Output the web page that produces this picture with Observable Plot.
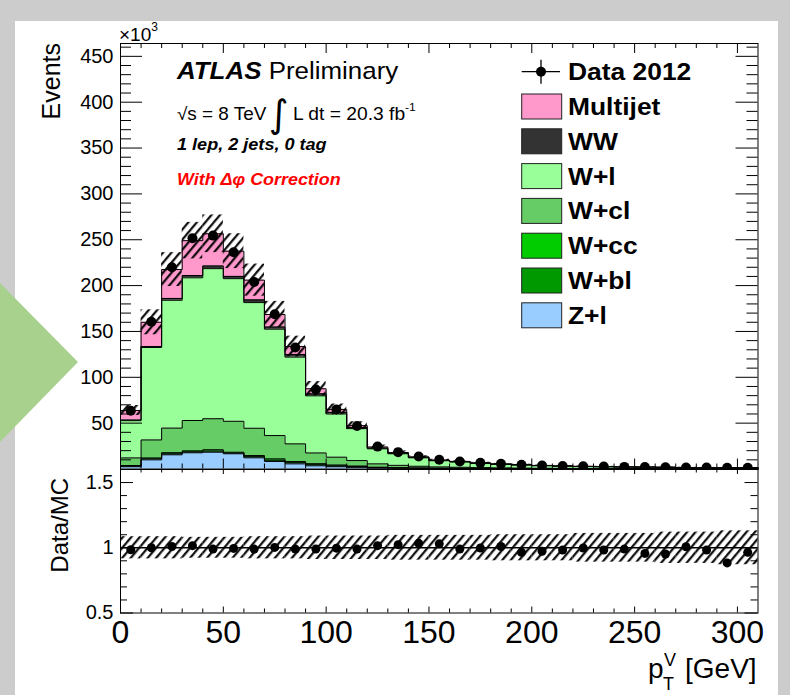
<!DOCTYPE html>
<html><head><meta charset="utf-8">
<script src="https://cdn.jsdelivr.net/npm/d3@7"></script>
<script src="https://cdn.jsdelivr.net/npm/@observablehq/plot@0.6"></script>
<style>
body{margin:0;background:#cccccc;}
#page{position:relative;width:790px;height:695px;overflow:hidden;font-family:"Liberation Sans",Arial,Helvetica,sans-serif;}
.abs{position:absolute;left:0;top:0;}
</style></head><body>
<div id="page">
 <div style="position:absolute;left:15px;top:21px;width:763px;height:674px;background:#fff"></div>
 <svg class="abs" width="790" height="695"><polygon points="0,283 78,362 0,442" fill="#A9D18E"/></svg>
 <svg width="0" height="0" style="position:absolute"><defs>
   <pattern id="hatch" patternUnits="userSpaceOnUse" width="6.5" height="6.5" patternTransform="rotate(40)"><line x1="1.2" y1="-1" x2="1.2" y2="8" stroke="#000" stroke-width="2.1"/></pattern>
 </defs></svg>
 <div id="upper" class="abs"></div>
 <div id="lower" class="abs" style="top:449px"></div>
 <svg id="ann" class="abs" width="790" height="695" font-family="Liberation Sans, Arial, Helvetica, sans-serif">
  <text x="119" y="40.5" font-size="19">×10<tspan dy="-10" font-size="12">3</tspan></text>
  <text transform="translate(60,43) rotate(-90)" text-anchor="end" font-size="25">Events</text>
  <text transform="translate(177,79.3) scale(1.08,1)" font-size="24"><tspan font-weight="bold" font-style="italic">ATLAS</tspan> Preliminary</text>
  <text transform="translate(177,120) scale(1.08,1)" font-size="17.5">√s = 8 TeV</text>
  <text x="269" y="127" font-size="38" font-family="DejaVu Sans">∫</text>
  <text transform="translate(293,120) scale(1.1,1)" font-size="17.5">L dt = 20.3 fb<tspan dy="-9" font-size="11">-1</tspan></text>
  <text transform="translate(177,150) scale(1.13,1)" font-size="16" font-weight="bold" font-style="italic">1 lep, 2 jets, 0 tag</text>
  <text transform="translate(177,185) scale(1.12,1)" font-size="16" font-weight="bold" font-style="italic" fill="#ff0000">With Δφ Correction</text>
  <g id="legend"></g>
  <text transform="translate(68,478) rotate(-90)" text-anchor="end" font-size="24">Data/MC</text>
  <text x="648" y="678" font-size="28">p<tspan x="663" y="690" font-size="18">T</tspan><tspan x="664" y="666" font-size="18">V</tspan><tspan x="685" y="678" font-size="28">[GeV]</tspan></text>
 </svg>
</div>
<script>
// ---- data (thousands of events per 10 GeV bin) ----
const binCenters = [5,15,25,35,45,55,65,75,85,95,105,115,125,135,145,155,165,175,185,195,205,215,225,235,245,255,265,275,285,295,305];
const zl  = [2.5,10,15.5,17.7,18.3,16.6,12.2,8.2,5.6,3.5,2.5,1.8,1.0,0.8,0.6,0.45,0.4,0.3,0.25,0.2,0.16,0.14,0.12,0.11,0.1,0.09,0.08,0.07,0.06,0.06,0.05];
const wbl = [0.7,1.1,1.1,1.0,1.3,0.85,1.25,1.45,1.3,1.2,1.0,0.8,0.5,0.4,0.3,0.25,0.2,0.15,0.12,0.1,0.08,0.07,0.06,0.05,0.05,0.04,0.04,0.03,0.03,0.03,0.03];
const wcc = [0.6,1.0,1.2,1.1,1.4,0.9,1.2,1.4,1.2,1.1,0.9,0.7,0.5,0.4,0.3,0.25,0.2,0.15,0.12,0.1,0.08,0.07,0.06,0.05,0.05,0.04,0.04,0.03,0.03,0.03,0.03];
const wcl = [8.3,19.6,26.8,33.1,33.8,33.7,29.8,25.4,19.3,11.7,8.5,5.9,3.6,2.4,1.8,1.35,1.1,0.9,0.75,0.62,0.5,0.43,0.37,0.34,0.3,0.28,0.26,0.22,0.2,0.19,0.18];
const wl  = [40.6,100.8,139.4,155.6,163.7,155.5,137,116,94.6,62.3,47.1,34.8,16.4,12.6,9.2,6.7,5.7,4.6,3.8,3.28,2.73,2.35,2.03,1.85,1.62,1.54,1.4,1.19,1.07,1.03,0.94];
const ww  = [0.8,1.1,2.0,2.5,3.0,2.5,3.0,2.5,2.9,2.2,1.8,1.3,0.8,0.6,0.5,0.4,0.35,0.3,0.26,0.22,0.18,0.16,0.14,0.13,0.11,0.11,0.1,0.08,0.08,0.07,0.07];
const mj  = [10.3,26.4,31.5,38,35,27.5,21.5,13.5,8.6,5.5,3.2,2.0,1.2,0.8,0.5,0.3,0.35,0.3,0.25,0.23,0.17,0.14,0.12,0.11,0.09,0.09,0.08,0.07,0.06,0.06,0.05];
const data2012 = [63.5,160.5,220,251.7,254.5,236.4,204,168.8,132.5,86.7,64.8,46.8,24.4,18.4,13.6,10,8.2,6.7,5.6,4.6,3.8,3.3,2.9,2.6,2.3,2.1,1.9,1.7,1.5,1.3,1.3];
const ratio = [0.985,1.0,1.01,1.016,0.99,0.995,0.99,1.003,0.99,0.99,0.997,0.99,1.016,1.024,1.034,1.03,0.99,0.998,1.01,0.965,0.973,0.983,0.998,0.983,0.99,0.957,0.952,1.008,0.983,0.884,0.965];
const relErr = [0.085,0.085,0.085,0.08,0.08,0.08,0.085,0.085,0.085,0.09,0.09,0.09,0.09,0.095,0.095,0.095,0.095,0.095,0.10,0.10,0.10,0.10,0.11,0.11,0.11,0.11,0.12,0.12,0.12,0.13,0.13];
const layerNames  = ["Z+l","W+bl","W+cc","W+cl","W+l","WW","Multijet"];
const layerColors = ["#99ccff","#009900","#00cc00","#66cc66","#99ff99","#333333","#ff99cc"];
const layerValues = [zl,wbl,wcc,wcl,wl,ww,mj];
const legendNames  = ["Multijet","WW","W+l","W+cl","W+cc","W+bl","Z+l"];
const legendColors = ["#ff99cc","#333333","#99ff99","#66cc66","#00cc00","#009900","#99ccff"];
const xTickLabels = [0,50,100,150,200,250,300];
const yTickLabelsUpper = [50,100,150,200,250,300,350,400,450];
const yTickLabelsLower = [0.5,1,1.5];

// ---- build stacked tables ----
const nb = binCenters.length;
const base = new Array(nb).fill(0);
const stacks = layerValues.map((vals, li) => {
  const rows = [];
  for (let i = 0; i < nb; i++) {
    const y1 = base[i], y2 = base[i] + vals[i];
    rows.push({x: binCenters[i]-5, y1, y2}, {x: binCenters[i]+5, y1, y2});
    base[i] = y2;
  }
  return {name: layerNames[li], color: layerColors[li], rows};
});
const bins = binCenters.map((c,i) => ({c, lo: c-5, hi: c+5, tot: base[i], data: data2012[i], ratio: ratio[i], err: relErr[i]}));

const font = "Liberation Sans, Arial, Helvetica, sans-serif";
const minorX = d3.range(10, 310, 10).filter(v => v % 50 !== 0);
const minorYU = d3.range(10, 464, 10).filter(v => v % 50 !== 0);
const minorYL = d3.range(0.6, 1.6, 0.1).filter(v => Math.abs(v*2 - Math.round(v*2)) > 1e-6);

// ---- upper pad ----
const W = 637.5, H = 425.5;
const upper = Plot.plot({
  width: 790, height: 470, marginLeft: 120, marginRight: 32.5, marginTop: 43, marginBottom: 1.5,
  x: {domain: [0, 310], axis: null},
  y: {domain: [0, 464], axis: null},
  style: {background: "transparent", fontFamily: font, overflow: "visible"},
  marks: [
    ...stacks.map(s => Plot.areaY(s.rows, {x: "x", y1: "y1", y2: "y2", fill: s.color})),
    ...stacks.map(s => Plot.lineY(s.rows, {x: "x", y: "y2", stroke: "#000", strokeWidth: 1})),
    Plot.rect(bins, {x1: "lo", x2: "hi", y1: d => d.tot*(1-d.err), y2: d => d.tot*(1+d.err), fill: "url(#hatch)"}),
    Plot.dot(bins, {x: "c", y: "data", r: 5, fill: "#000", clip: true}),
    Plot.tickX(xTickLabels, {x: d => d, insetBottom: H-10, stroke: "#000"}),
    Plot.tickX(minorX, {x: d => d, insetBottom: H-5, stroke: "#000"}),
    Plot.tickX(xTickLabels, {x: d => d, insetTop: H-10, stroke: "#000"}),
    Plot.tickX(minorX, {x: d => d, insetTop: H-5, stroke: "#000"}),
    Plot.tickY(yTickLabelsUpper, {y: d => d, insetRight: W-22, stroke: "#000"}),
    Plot.tickY(minorYU, {y: d => d, insetRight: W-11, stroke: "#000"}),
    Plot.tickY(yTickLabelsUpper, {y: d => d, insetLeft: W-22, stroke: "#000"}),
    Plot.tickY(minorYU, {y: d => d, insetLeft: W-11, stroke: "#000"}),
    Plot.axisY({ticks: yTickLabelsUpper, tickSize: 0, tickPadding: 7, fontSize: 20, tickFormat: d => String(d), label: null}),
    Plot.frame({stroke: "#000", strokeWidth: 1})
  ]
});
document.getElementById("upper").appendChild(upper);

// ---- lower pad ----
const H2 = 143.5;
const lower = Plot.plot({
  width: 790, height: 246, marginLeft: 120, marginRight: 32.5, marginTop: 20, marginBottom: 82.5,
  x: {domain: [0, 310], axis: null},
  y: {domain: [0.5, 1.6], axis: null},
  style: {background: "transparent", fontFamily: font, overflow: "visible"},
  marks: [
    Plot.rect(bins, {x1: "lo", x2: "hi", y1: d => 1-d.err, y2: d => 1+d.err, fill: "url(#hatch)"}),
    Plot.ruleY([1], {stroke: "#000", strokeWidth: 1.5}),
    Plot.dot(bins, {x: "c", y: "ratio", r: 4.5, fill: "#000", clip: true}),
    Plot.tickX(xTickLabels, {x: d => d, insetBottom: H2-5, stroke: "#000"}),
    Plot.tickX(minorX, {x: d => d, insetBottom: H2-3.5, stroke: "#000"}),
    Plot.tickX(xTickLabels, {x: d => d, insetTop: H2-6, stroke: "#000"}),
    Plot.tickX(minorX, {x: d => d, insetTop: H2-4, stroke: "#000"}),
    Plot.tickY(yTickLabelsLower, {y: d => d, insetRight: W-13, stroke: "#000"}),
    Plot.tickY(minorYL, {y: d => d, insetRight: W-7, stroke: "#000"}),
    Plot.tickY(yTickLabelsLower, {y: d => d, insetLeft: W-13, stroke: "#000"}),
    Plot.tickY(minorYL, {y: d => d, insetLeft: W-7, stroke: "#000"}),
    Plot.axisY({ticks: yTickLabelsLower, tickSize: 0, tickPadding: 7, fontSize: 20, tickFormat: d => String(d), label: null}),
    Plot.axisX({ticks: xTickLabels, tickSize: 0, tickPadding: 7, fontSize: 32, tickFormat: d => String(d), label: null}),
    Plot.frame({stroke: "#000", strokeWidth: 1})
  ]
});
document.getElementById("lower").appendChild(lower);

// ---- legend ----
const NS = "http://www.w3.org/2000/svg";
const leg = document.getElementById("legend");
function el(tag, attrs, text) { const e = document.createElementNS(NS, tag); for (const k in attrs) e.setAttribute(k, attrs[k]); if (text) e.textContent = text; leg.appendChild(e); return e; }
const rowY0 = 71.7, rowDy = 34.8;
el("line", {x1: 521.7, x2: 560, y1: rowY0, y2: rowY0, stroke: "#000", "stroke-width": 1.3});
el("line", {x1: 541, x2: 541, y1: rowY0-12, y2: rowY0+12, stroke: "#000", "stroke-width": 1.3});
el("circle", {cx: 541, cy: rowY0, r: 5, fill: "#000"});
el("text", {transform: `translate(568,${rowY0 + 8.5}) scale(1.1,1)`, "font-size": 24, "font-weight": "bold"}, "Data 2012");
legendNames.forEach((n, i) => {
  const cy = rowY0 + rowDy*(i+1);
  el("rect", {x: 521.7, y: cy-12.5, width: 40, height: 25, fill: legendColors[i], stroke: "#222", "stroke-width": 1});
  el("text", {transform: `translate(568,${cy + 8.5}) scale(1.1,1)`, "font-size": 24, "font-weight": "bold"}, n);
});
</script>
</body></html>
